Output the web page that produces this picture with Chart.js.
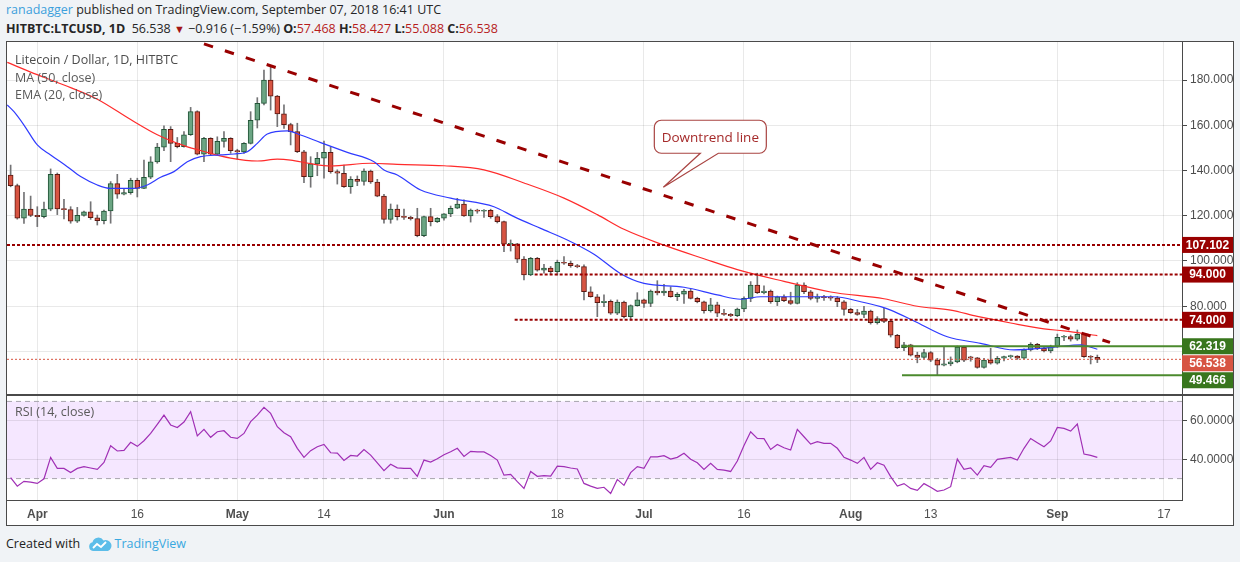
<!DOCTYPE html>
<html>
<head>
<meta charset="utf-8">
<script src="https://cdn.jsdelivr.net/npm/chart.js@4.4.1/dist/chart.umd.min.js"></script>
<style>
  html, body { margin: 0; padding: 0; }
  body { width: 1240px; height: 562px; background: #f0f3f6; position: relative; overflow: hidden; font-family: 'Open Sans', sans-serif; }
  .hdr { position: absolute; left: 6px; white-space: nowrap; font-size: 12.5px; color: #262626; line-height: 18px; }
  #hdr1 { top: 1px; }
  #hdr2 { top: 20px; }
  .user { color: #3ca0dc; }
  .dn { color: #a31515; font-size: 11px; }
  .val { color: #b71c1c; }
  #frame { position: absolute; left: 6px; top: 41px; width: 1226px; height: 483px; border: 1px solid #4a4a4a; background: #fff; }
  #chart { position: absolute; left: 0; top: 0; }
  .lbl { position: absolute; left: 8px; white-space: nowrap; font-size: 12.5px; color: #5a5a5a; line-height: 16px; pointer-events: none; }
  #footer { position: absolute; left: 6px; top: 535px; font-size: 12.5px; color: #222; line-height: 18px; white-space: nowrap; }
  #footer .tv { color: #39a8e0; }
  #logo { position: absolute; left: 88px; top: 537px; }
</style>
</head>
<body>
<div id="hdr1" class="hdr"><span class="user">ranadagger</span> published on TradingView.com, September 07, 2018 16:41 UTC</div>
<div id="hdr2" class="hdr"><b>HITBTC:LTCUSD, 1D</b>&nbsp; 56.538 <span class="dn">▼</span> −0.916 (−1.59%) <b>O:</b><span class="val">57.468</span> <b>H:</b><span class="val">58.427</span> <b>L:</b><span class="val">55.088</span> <b>C:</b><span class="val">56.538</span></div>

<div id="frame">
  <canvas id="chart" width="1226" height="483"></canvas>
  <div class="lbl" style="top:10px;color:#4d4d4d">Litecoin / Dollar, 1D, HITBTC</div>
  <div class="lbl" style="top:28px">MA (50, close)</div>
  <div class="lbl" style="top:45px">EMA (20, close)</div>
  <div class="lbl" style="top:362px">RSI (14, close)</div>
</div>

<div id="footer">Created with <span style="display:inline-block;width:31px"></span><span class="tv">TradingView</span></div>
<svg id="logo" width="24" height="15" viewBox="0 0 24 15">
  <path d="M5 14 A4.5 4.5 0 0 1 4.5 5.2 A6 6 0 0 1 15.5 3.5 A5 5 0 0 1 20 14 Z" fill="#5cbde9"/>
  <polyline points="5,11 9,7 13,10 18,5" fill="none" stroke="#fff" stroke-width="1.8"/>
</svg>

<script>
// daily candles, day 0 = Apr 1 2018, first candle Mar 28
const firstDay = -4;

const opens = [
  138.0, 133.3, 118.9, 122.9, 120.2, 119.6, 122.9, 138.3, 123.0, 122.7,
  117.6, 120.2, 121.7, 119.1, 117.8, 122.1, 134.2, 129.5, 130.2, 135.7,
  132.1, 137.0, 143.8, 150.3, 158.2, 152.0, 150.5, 155.8, 166.0, 147.2,
  154.2, 147.2, 152.9, 154.2, 148.8, 148.2, 152.0, 162.2, 169.7, 180.0,
  172.9, 165.0, 160.3, 157.2, 148.3, 137.3, 142.9, 145.4, 148.0, 139.5,
  138.8, 132.8, 136.1, 135.2, 139.8, 134.9, 128.7, 118.4, 122.9, 119.6,
  119.3, 118.7, 111.2, 119.6, 117.4, 118.9, 120.8, 123.3, 125.2, 119.9,
  122.5, 122.0, 122.4, 119.6, 117.4, 107.4, 107.6, 100.8, 93.8, 101.2,
  96.0, 96.9, 95.3, 99.4, 99.0, 97.9, 97.5, 86.4, 84.2, 81.6,
  82.2, 76.9, 81.8, 75.4, 80.3, 82.8, 81.3, 86.7, 85.9, 86.7,
  84.2, 85.3, 86.7, 83.5, 82.0, 78.0, 80.6, 76.9, 76.4, 75.8,
  78.8, 83.5, 89.4, 86.0, 86.7, 82.0, 84.2, 82.5, 81.3, 89.4,
  86.4, 83.5, 84.2, 83.8, 83.6, 82.0, 78.6, 77.2, 76.4, 77.9,
  72.7, 74.6, 73.3, 67.2, 61.7, 62.9, 58.4, 57.4, 59.5, 56.2,
  54.0, 54.5, 55.4, 62.0, 57.6, 57.2, 53.0, 56.2, 54.8, 57.0,
  57.7, 58.0, 57.0, 60.7, 63.2, 61.4, 60.2, 62.2, 66.3, 66.6,
  65.4, 67.6, 57.7, 57.468
];
const highs = [
  142.4, 134.0, 130.4, 128.7, 124.0, 126.0, 140.7, 138.9, 127.3, 124.0,
  123.7, 122.1, 126.2, 120.3, 122.5, 135.1, 138.3, 132.1, 136.6, 136.6,
  144.6, 146.1, 152.0, 159.7, 159.4, 154.6, 157.2, 167.9, 166.4, 154.7,
  154.5, 154.9, 157.2, 154.5, 149.4, 152.3, 166.0, 172.2, 184.4, 185.9,
  173.2, 169.0, 160.9, 160.9, 148.9, 146.1, 148.0, 153.0, 150.5, 140.3,
  142.4, 137.3, 137.6, 140.7, 140.2, 136.1, 129.5, 125.2, 124.8, 122.9,
  119.8, 123.3, 119.8, 123.3, 119.2, 121.0, 124.3, 127.7, 127.0, 123.0,
  122.9, 122.7, 122.9, 120.5, 117.6, 109.3, 107.8, 101.9, 101.6, 101.6,
  98.5, 97.6, 100.4, 101.9, 100.0, 98.5, 98.3, 88.6, 85.2, 85.0,
  82.8, 82.8, 82.3, 80.6, 86.0, 83.2, 87.2, 91.3, 89.7, 88.6,
  86.0, 87.5, 87.5, 84.0, 82.3, 83.5, 81.8, 78.6, 76.8, 79.2,
  84.2, 90.9, 94.6, 89.0, 87.2, 84.5, 85.0, 86.2, 90.4, 90.4,
  87.0, 85.4, 84.8, 84.6, 84.3, 82.5, 79.1, 78.6, 80.0, 78.3,
  75.4, 79.1, 73.8, 67.6, 64.0, 63.2, 59.7, 61.0, 60.0, 57.0,
  62.0, 57.6, 62.4, 62.4, 57.9, 57.4, 57.0, 61.4, 57.8, 58.0,
  58.4, 58.2, 61.2, 63.9, 63.6, 61.8, 62.8, 67.7, 67.2, 67.3,
  69.5, 68.0, 58.2, 58.427
];
const lows = [
  132.8, 118.5, 116.6, 119.6, 115.2, 119.0, 122.2, 120.5, 118.6, 116.7,
  117.0, 119.8, 118.4, 115.9, 116.4, 116.7, 127.7, 129.2, 129.5, 128.3,
  132.0, 136.4, 143.2, 148.8, 143.9, 150.0, 150.3, 155.5, 146.9, 143.9,
  146.9, 146.9, 150.3, 147.6, 145.0, 147.6, 151.7, 158.8, 169.0, 166.7,
  159.4, 158.6, 151.3, 147.9, 134.6, 132.6, 137.7, 136.6, 138.8, 134.0,
  132.5, 129.9, 133.3, 133.5, 134.3, 128.4, 116.7, 116.7, 118.1, 118.4,
  118.1, 110.7, 110.7, 115.5, 117.0, 118.1, 119.6, 123.1, 119.7, 117.2,
  121.1, 119.3, 118.9, 116.8, 104.1, 104.4, 99.3, 91.6, 93.5, 95.5,
  94.6, 94.3, 93.8, 98.5, 97.2, 97.0, 82.8, 84.0, 75.4, 79.8,
  76.4, 76.3, 74.8, 73.9, 80.0, 79.5, 79.8, 85.0, 84.8, 84.0,
  82.5, 81.3, 83.2, 81.5, 76.9, 77.4, 75.4, 75.9, 75.4, 75.4,
  77.6, 82.0, 85.6, 85.4, 81.3, 80.3, 82.0, 80.8, 81.0, 85.6,
  82.8, 81.8, 82.6, 82.6, 79.8, 76.1, 76.8, 76.0, 74.9, 72.1,
  72.1, 72.7, 66.4, 61.3, 60.4, 58.0, 55.0, 56.8, 55.5, 49.47,
  53.6, 53.7, 55.0, 55.5, 55.7, 52.6, 52.6, 54.4, 54.4, 55.8,
  57.0, 56.5, 56.7, 60.2, 60.8, 59.8, 59.4, 61.8, 64.8, 64.6,
  64.9, 57.4, 54.5, 55.088
];
const closes = [
  133.3, 118.9, 122.9, 120.2, 119.6, 122.9, 138.3, 123.0, 122.7, 117.6,
  120.2, 121.7, 119.1, 117.8, 122.1, 134.2, 129.5, 130.2, 135.7, 132.1,
  137.0, 143.8, 150.3, 158.2, 152.0, 150.5, 155.8, 166.0, 147.2, 154.2,
  147.2, 152.9, 154.2, 148.8, 148.2, 152.0, 162.2, 169.7, 180.0, 172.9,
  165.0, 160.3, 157.2, 148.3, 137.3, 142.9, 145.4, 148.0, 139.5, 138.8,
  132.8, 136.1, 135.2, 139.8, 134.9, 128.7, 118.4, 122.9, 119.6, 119.3,
  118.7, 111.2, 119.6, 117.4, 118.9, 120.8, 123.3, 125.2, 119.9, 122.5,
  122.0, 122.4, 119.6, 117.4, 107.4, 107.6, 100.8, 93.8, 101.2, 96.0,
  96.9, 95.3, 99.4, 99.0, 97.9, 97.5, 86.4, 84.2, 81.6, 82.2,
  76.9, 81.8, 75.4, 80.3, 82.8, 81.3, 86.7, 85.9, 86.7, 84.2,
  85.3, 86.7, 83.5, 82.0, 78.0, 80.6, 76.9, 76.4, 75.8, 78.8,
  83.5, 89.4, 86.0, 86.7, 82.0, 84.2, 82.5, 81.3, 89.4, 86.4,
  83.5, 84.2, 83.8, 83.6, 82.0, 78.6, 77.2, 76.4, 77.9, 72.7,
  74.6, 73.3, 67.2, 61.7, 62.9, 58.4, 57.4, 59.5, 56.2, 54.0,
  54.5, 55.4, 62.0, 56.2, 57.0, 53.0, 56.2, 54.8, 57.0, 57.7,
  58.0, 57.0, 60.7, 63.2, 61.4, 60.2, 62.2, 66.3, 66.6, 65.4,
  67.6, 57.7, 57.468, 56.538
];
const rsiValues = [
  30.5, 26.1, 28.6, 28.2, 27.5, 29.9, 41.0, 35.3, 35.3, 33.2, 35.3, 36.2, 35.5, 34.8,
  38.4, 47.0, 44.3, 44.6, 48.8, 46.7, 49.6, 53.4, 58.1, 62.9,
  57.8, 56.5, 59.3, 64.7, 52.1, 55.5, 51.4, 54.3, 54.8, 51.4,
  50.8, 53.4, 59.5, 62.9, 66.9, 63.8, 56.9, 53.8, 51.7, 45.7,
  41.0, 44.5, 46.5, 47.7, 43.4, 43.2, 39.4, 42.0, 41.7, 45.1,
  42.2, 38.2, 34.1, 37.4, 35.6, 35.3, 35.3, 31.2, 39.6, 38.6,
  40.3, 42.4, 43.9, 45.7, 41.5, 44.1, 43.8, 43.8, 42.0, 39.6,
  31.8, 32.2, 28.4, 24.9, 33.7, 31.2, 31.5, 31.3, 36.5, 36.2,
  35.5, 35.0, 27.5, 26.1, 24.9, 25.5, 22.3, 29.6, 26.5, 33.1,
  36.2, 35.3, 41.3, 41.3, 41.9, 40.1, 41.0, 43.1, 40.0, 38.2,
  34.8, 37.9, 34.8, 34.4, 33.7, 39.1, 47.2, 54.3, 50.8, 50.7,
  45.1, 47.7, 46.0, 44.8, 55.5, 51.7, 47.9, 49.1, 48.3, 48.3,
  45.7, 41.0, 39.6, 37.9, 41.0, 34.8, 38.2, 36.9, 31.0, 26.1,
  27.4, 24.9, 23.9, 27.4, 25.5, 23.4, 24.1, 25.8, 40.1, 34.8,
  35.6, 31.8, 36.7, 35.8, 40.0, 40.5, 41.0, 39.6, 45.7, 50.8,
  48.6, 46.5, 49.5, 56.5, 56.0, 54.6, 58.3, 42.7, 42.0, 41.0
];

// moving averages
const maDays = [-4.5, -1, 4, 9, 14, 18, 22, 25, 29, 33, 36, 38, 41, 44, 50, 54, 61, 67, 73, 79,
  84, 88, 94, 100, 105, 112, 119, 127, 132, 137, 141, 146, 151, 154, 159];
const maValues = [187.8, 183.5, 177.8, 171.5, 162.5, 155.8, 151.0, 148.4, 145.5, 144.2, 145.0, 144.6,
  143.0, 142.0, 143.2, 142.7, 142.1, 140.3, 134.5, 127.8, 120.5, 114.0, 107.0, 101.0, 96.2, 91.0,
  86.3, 83.3, 80.0, 78.3, 75.5, 72.6, 70.0, 69.1, 67.0];
const emaDays = [-4.5, -3.5, -2, 0, 2, 4.5, 6.5, 9, 11, 14.5, 16.5, 18.5, 20.5, 22.5, 24.5, 27.5,
  29.5, 31.5, 33, 34.5, 37.5, 39.5, 42.5, 46.5, 50.5, 52, 54, 57.5, 62, 68.5, 71.5, 75.5, 79.5,
  83.5, 87.5, 91, 97, 102, 105.5, 108.5, 114.5, 119.5, 123.5, 126.5, 128, 131.5, 136.5, 141.5,
  146.5, 152.5, 156.5, 159];
const emaValues = [169.0, 166.0, 160.1, 151.3, 146.9, 141.7, 137.3, 133.6, 132.1, 132.1, 133.6,
  137.0, 139.5, 143.9, 146.1, 146.9, 147.3, 148.3, 152.0, 156.1, 157.5, 155.7, 152.3, 148.0,
  143.9, 140.2, 138.0, 131.4, 127.8, 124.0, 119.6, 114.4, 109.3, 103.0, 94.4, 90.1, 88.4, 85.0,
  83.1, 84.2, 84.2, 84.2, 82.0, 79.8, 78.3, 73.5, 66.5, 63.6, 60.7, 61.9, 62.9, 61.0];

// axes
const xMin = -4.545, xMax = 171.7;
const xTickDays = [0, 15, 30, 43, 61, 78, 91, 106, 122, 134, 153, 169];
const xTickLabels = ['Apr', '16', 'May', '14', 'Jun', '18', 'Jul', '16', 'Aug', '13', 'Sep', '17'];
const priceMin = 40.77, priceMax = 196.8;
const priceTicks = [60, 80, 100, 120, 140, 160, 180];
const hiddenPriceTicks = [60];
const rsiMin = 18.91, rsiMax = 73.32;
const rsiTicks = [40, 60];
const rsiBand = [30, 70];

// drawings
const resistanceLevels = [107.102, 94, 74];
const resistanceFrom = [xMin, 74.6, 71.6];
const supportLevels = [62.319, 49.466];
const supportFrom = [129.7, 129.7];
const lastPrice = 56.538;
const trendStart = { x: 25, y: 195.98 };
const trendEnd = { x: 160.9, y: 64.0 };
const callout = { x: 93.9, y: 132.6, text: 'Downtrend line' };

const UP = '#6ba583', DOWN = '#d75442', UP_BORDER = '#225437', DOWN_BORDER = '#5b1a13', WICK = '#737375';
const RES_COLOR = '#990000', SUP_COLOR = '#4b8a2e';
const axisFont = "'Liberation Sans', Arial, sans-serif";

const days = closes.map((_, i) => firstDay + i);
const isUp = closes.map((c, i) => c >= opens[i]);

const priceTags = [
  ...resistanceLevels.map(v => ({ value: v, color: RES_COLOR })),
  ...supportLevels.map(v => ({ value: v, color: '#38761d' })),
  { value: lastPrice, color: DOWN }
];

function levelLine(value, from, color, width, dash, axis, order) {
  return {
    type: 'line',
    data: [{ x: from, y: value }, { x: xMax, y: value }],
    borderColor: color,
    borderWidth: width,
    borderDash: dash,
    pointRadius: 0,
    yAxisID: axis,
    order: order
  };
}

const datasets = [
  {
    type: 'bar',
    data: days.map((d, i) => ({ x: d, y: [lows[i], highs[i]] })),
    backgroundColor: WICK,
    barThickness: 1,
    grouped: false,
    yAxisID: 'y',
    order: 6
  },
  {
    type: 'bar',
    data: days.map((d, i) => ({ x: d, y: [opens[i], closes[i]] })),
    backgroundColor: isUp.map(u => u ? UP : DOWN),
    borderColor: isUp.map(u => u ? UP_BORDER : DOWN_BORDER),
    borderWidth: 1,
    borderSkipped: false,
    barThickness: 5,
    minBarLength: 1,
    grouped: false,
    yAxisID: 'y',
    order: 5
  },
  {
    type: 'line',
    data: maDays.map((d, i) => ({ x: d, y: maValues[i] })),
    borderColor: '#ff2b2b',
    borderWidth: 1.2,
    pointRadius: 0,
    cubicInterpolationMode: 'monotone',
    yAxisID: 'y',
    order: 4
  },
  {
    type: 'line',
    data: emaDays.map((d, i) => ({ x: d, y: emaValues[i] })),
    borderColor: '#2f3bff',
    borderWidth: 1.2,
    pointRadius: 0,
    cubicInterpolationMode: 'monotone',
    yAxisID: 'y',
    order: 3
  },
  ...resistanceLevels.map((v, i) => levelLine(v, resistanceFrom[i], RES_COLOR, 2, [3, 2], 'y', 1)),
  ...supportLevels.map((v, i) => levelLine(v, supportFrom[i], SUP_COLOR, 2, [], 'y', 1)),
  levelLine(lastPrice, xMin, DOWN, 1, [2, 2], 'y', 2),
  {
    type: 'line',
    data: [trendStart, trendEnd],
    borderColor: RES_COLOR,
    borderWidth: 3,
    borderDash: [9.5, 12.5],
    pointRadius: 0,
    yAxisID: 'y',
    order: 0
  },
  // RSI pane
  levelLine(rsiBand[1], xMin, '#a8a4ad', 1, [5, 4], 'yR', 3),
  levelLine(rsiBand[0], xMin, '#a8a4ad', 1, [5, 4], 'yR', 3),
  {
    type: 'line',
    data: days.map((d, i) => ({ x: d, y: rsiValues[i] })),
    borderColor: '#a02fb5',
    borderWidth: 1.2,
    pointRadius: 0,
    tension: 0,
    yAxisID: 'yR',
    order: 2
  }
];

const paneDecor = {
  id: 'paneDecor',
  beforeDraw(chart) {
    const { ctx, chartArea } = chart;
    const r = chart.scales.yR;
    const top = r.getPixelForValue(rsiBand[1]);
    const bottom = r.getPixelForValue(rsiBand[0]);
    ctx.save();
    ctx.fillStyle = 'rgba(153, 21, 255, 0.1)';
    ctx.fillRect(chartArea.left, top, chartArea.right - chartArea.left, bottom - top);
    ctx.restore();
  },
  afterDatasetsDraw(chart) {
    const { ctx, scales } = chart;
    ctx.save();
    // separator between price pane and RSI pane
    const sepY = Math.round(scales.yR.top);
    ctx.strokeStyle = '#4a4a4a';
    ctx.lineWidth = 2;
    ctx.beginPath();
    ctx.moveTo(0, sepY);
    ctx.lineTo(chart.width, sepY);
    ctx.stroke();

    // "Downtrend line" callout
    const tx = scales.x.getPixelForValue(callout.x);
    const ty = scales.y.getPixelForValue(callout.y);
    const bx = tx - 9, by = ty - 67, bw = 112, bh = 33, r = 7;
    ctx.beginPath();
    ctx.moveTo(bx + r, by);
    ctx.lineTo(bx + bw - r, by);
    ctx.arcTo(bx + bw, by, bx + bw, by + r, r);
    ctx.lineTo(bx + bw, by + bh - r);
    ctx.arcTo(bx + bw, by + bh, bx + bw - r, by + bh, r);
    ctx.lineTo(tx + 55, by + bh);
    ctx.lineTo(tx, ty);
    ctx.lineTo(tx + 37, by + bh);
    ctx.lineTo(bx + r, by + bh);
    ctx.arcTo(bx, by + bh, bx, by + bh - r, r);
    ctx.lineTo(bx, by + r);
    ctx.arcTo(bx, by, bx + r, by, r);
    ctx.closePath();
    ctx.fillStyle = '#fff';
    ctx.fill();
    ctx.strokeStyle = '#a94442';
    ctx.lineWidth = 1.2;
    ctx.stroke();
    ctx.fillStyle = '#a52a2a';
    ctx.font = "13.5px 'Open Sans', sans-serif";
    ctx.textAlign = 'center';
    ctx.textBaseline = 'middle';
    ctx.fillText(callout.text, bx + bw / 2, by + bh / 2 + 1);
    ctx.restore();
  },
  afterDraw(chart) {
    const { ctx, chartArea, scales } = chart;
    const h = 16;
    const tags = priceTags
      .map(t => ({ ...t, py: scales.y.getPixelForValue(t.value) }))
      .sort((a, b) => a.py - b.py);
    let lastBottom = -Infinity;
    tags.forEach(t => {
      let top = t.py - h / 2;
      if (top < lastBottom) top = lastBottom + 1;
      t.top = top;
      lastBottom = top + h;
    });
    ctx.save();
    ctx.font = "bold 12px " + axisFont;
    ctx.textAlign = 'center';
    ctx.textBaseline = 'middle';
    tags.forEach(t => {
      ctx.fillStyle = t.color;
      ctx.fillRect(chartArea.right, t.top, chart.width - chartArea.right, h);
      ctx.fillStyle = '#fff';
      ctx.fillText(t.value.toFixed(3), chartArea.right + (chart.width - chartArea.right) / 2, t.top + h / 2 + 0.5);
    });
    ctx.restore();
  }
};

const gridColor = 'rgba(0, 0, 0, 0.085)';

// keep the panes exactly where the picture has them: no label overflow padding
function noPadding(s) {
  s.paddingTop = 0;
  s.paddingBottom = 0;
  s.paddingLeft = 0;
  s.paddingRight = 0;
}

new Chart(document.getElementById('chart'), {
  type: 'bar',
  data: { datasets },
  plugins: [paneDecor],
  options: {
    responsive: false,
    animation: false,
    devicePixelRatio: 1,
    events: [],
    layout: { padding: 0 },
    plugins: { legend: { display: false }, tooltip: { enabled: false } },
    scales: {
      x: {
        type: 'linear',
        min: xMin,
        max: xMax,
        offset: false,
        grid: { color: gridColor, drawTicks: false, offset: false },
        border: { color: '#4a4a4a' },
        afterBuildTicks: s => { s.ticks = xTickDays.map(v => ({ value: v })); },
        afterFit: s => { s.height = 25; noPadding(s); },
        ticks: {
          autoSkip: false,
          maxRotation: 0,
          padding: 7,
          color: '#4f4f4f',
          font: ctx => ({
            family: axisFont,
            size: 12,
            weight: ctx.tick && isNaN(parseInt(xTickLabels[xTickDays.indexOf(ctx.tick.value)])) ? 'bold' : 'normal'
          }),
          callback: v => xTickLabels[xTickDays.indexOf(v)]
        }
      },
      y: {
        type: 'linear',
        position: 'right',
        stack: 'panes',
        stackWeight: 353,
        min: priceMin,
        max: priceMax,
        grid: { color: gridColor, tickColor: '#4a4a4a', tickLength: 5 },
        border: { color: '#4a4a4a' },
        afterBuildTicks: s => { s.ticks = priceTicks.map(v => ({ value: v })); },
        afterFit: s => { s.width = 51; noPadding(s); },
        ticks: {
          padding: 3,
          color: '#4d4d4d',
          font: { family: axisFont, size: 12 },
          callback: v => hiddenPriceTicks.includes(v) ? '' : v.toFixed(3)
        }
      },
      yR: {
        type: 'linear',
        position: 'right',
        stack: 'panes',
        stackWeight: 105,
        min: rsiMin,
        max: rsiMax,
        grid: { color: gridColor, tickColor: '#4a4a4a', tickLength: 5 },
        border: { color: '#4a4a4a' },
        afterBuildTicks: s => { s.ticks = rsiTicks.map(v => ({ value: v })); },
        afterFit: s => { s.width = 51; noPadding(s); },
        ticks: {
          padding: 3,
          color: '#4d4d4d',
          font: { family: axisFont, size: 12 },
          callback: v => v.toFixed(4)
        }
      }
    }
  }
});
</script>
</body>
</html>
